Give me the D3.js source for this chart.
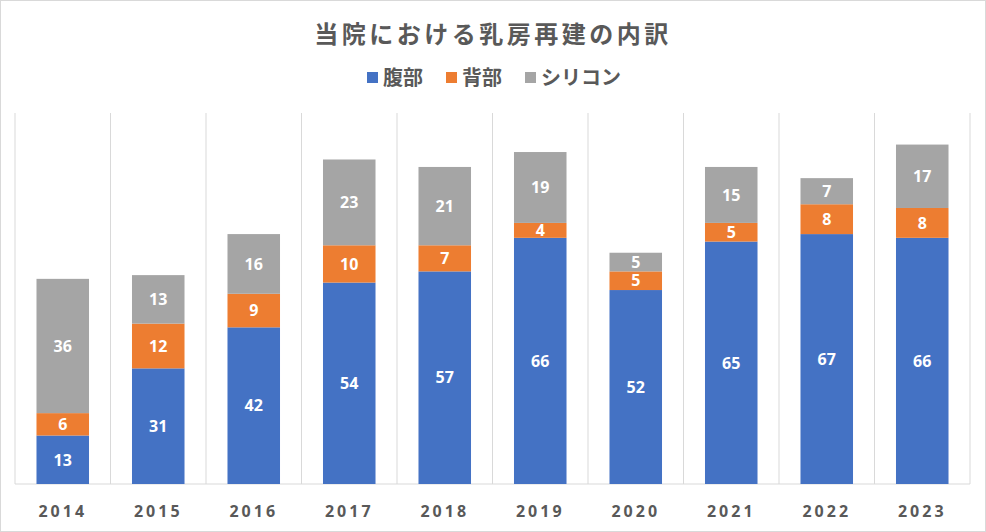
<!DOCTYPE html>
<html><head><meta charset="utf-8">
<script src="https://cdn.jsdelivr.net/npm/d3@7"></script>
<style>body{margin:0;background:#fff;} svg{display:block;font-family:"Noto Sans CJK JP","Noto Sans",sans-serif;}</style>
</head><body>
<svg id="c" width="986" height="532"></svg>
<script>
const years = ["2014","2015","2016","2017","2018","2019","2020","2021","2022","2023"];
const abdominal = [13,31,42,54,57,66,52,65,67,66];
const back = [6,12,9,10,7,4,5,5,8,8];
const silicone = [36,13,16,23,21,19,5,15,7,17];
const seriesNames = ["腹部","背部","シリコン"];
const colors = ["#4472C4","#ED7D31","#A5A5A5"];
const title = "当院における乳房再建の内訳";

const svg = d3.select("#c");
svg.append("rect").attr("x",0.5).attr("y",0.5).attr("width",985).attr("height",531)
  .attr("fill","#fff").attr("stroke","#d9d9d9");

const rows = years.map((y,i)=>({year:y, "腹部":abdominal[i], "背部":back[i], "シリコン":silicone[i]}));
const stack = d3.stack().keys(seriesNames)(rows);

const x = d3.scaleBand().domain(years).range([15,970]).paddingInner(0).paddingOuter(0);
const y = d3.scaleLinear().domain([0,100]).range([484,111]);

const g = svg.append("g");
const bounds = years.map(d=>x(d)).concat([x.range()[1]]);
g.selectAll("line.v").data(bounds).join("line")
  .attr("x1",d=>d).attr("x2",d=>d).attr("y1",y(100)+2).attr("y2",y(0))
  .attr("stroke","#d9d9d9").attr("stroke-width",1);
g.append("line").attr("x1",15).attr("x2",970).attr("y1",y(0)).attr("y2",y(0)).attr("stroke","#d9d9d9");

const barW = x.bandwidth()*0.55;
const off = (x.bandwidth()-barW)/2;
stack.forEach((s,si)=>{
  const sg = svg.append("g");
  sg.selectAll("rect").data(s).join("rect")
    .attr("x",d=>x(d.data.year)+off).attr("width",barW)
    .attr("y",d=>y(d[1])).attr("height",d=>y(d[0])-y(d[1]))
    .attr("fill",colors[si]);
  sg.selectAll("text").data(s).join("text")
    .attr("x",d=>x(d.data.year)+x.bandwidth()/2)
    .attr("y",d=>(y(d[0])+y(d[1]))/2)
    .attr("dy","0.36em").attr("text-anchor","middle")
    .attr("fill","#fff").attr("font-size",16).attr("font-weight","bold")
    .attr("font-family","'Open Sans', 'Noto Sans', sans-serif")
    .text(d=>d[1]-d[0]);
});

const xa = svg.append("g").attr("transform",`translate(0,${y(0)})`).call(d3.axisBottom(x).tickSize(0).tickPadding(22));
xa.select(".domain").remove();
xa.selectAll("text").attr("font-size",16).attr("font-weight","bold").attr("fill","#595959")
  .attr("letter-spacing","3px").attr("font-family","'Noto Sans', sans-serif");

svg.append("text").attr("x",493).attr("y",43).attr("text-anchor","middle")
  .attr("font-size",24).attr("font-weight","bold").attr("fill","#595959").attr("letter-spacing","3.5px").text(title);

const legendItems = [{n:"腹部",x:367},{n:"背部",x:446},{n:"シリコン",x:525}];
const lg = svg.append("g");
legendItems.forEach((it,i)=>{
  lg.append("rect").attr("x",it.x).attr("y",72).attr("width",11).attr("height",11).attr("fill",colors[i]);
  lg.append("text").attr("x",it.x+16).attr("y",85).attr("font-size",20).attr("font-weight","bold")
    .attr("fill","#595959").text(it.n);
});
</script>
</body></html>
